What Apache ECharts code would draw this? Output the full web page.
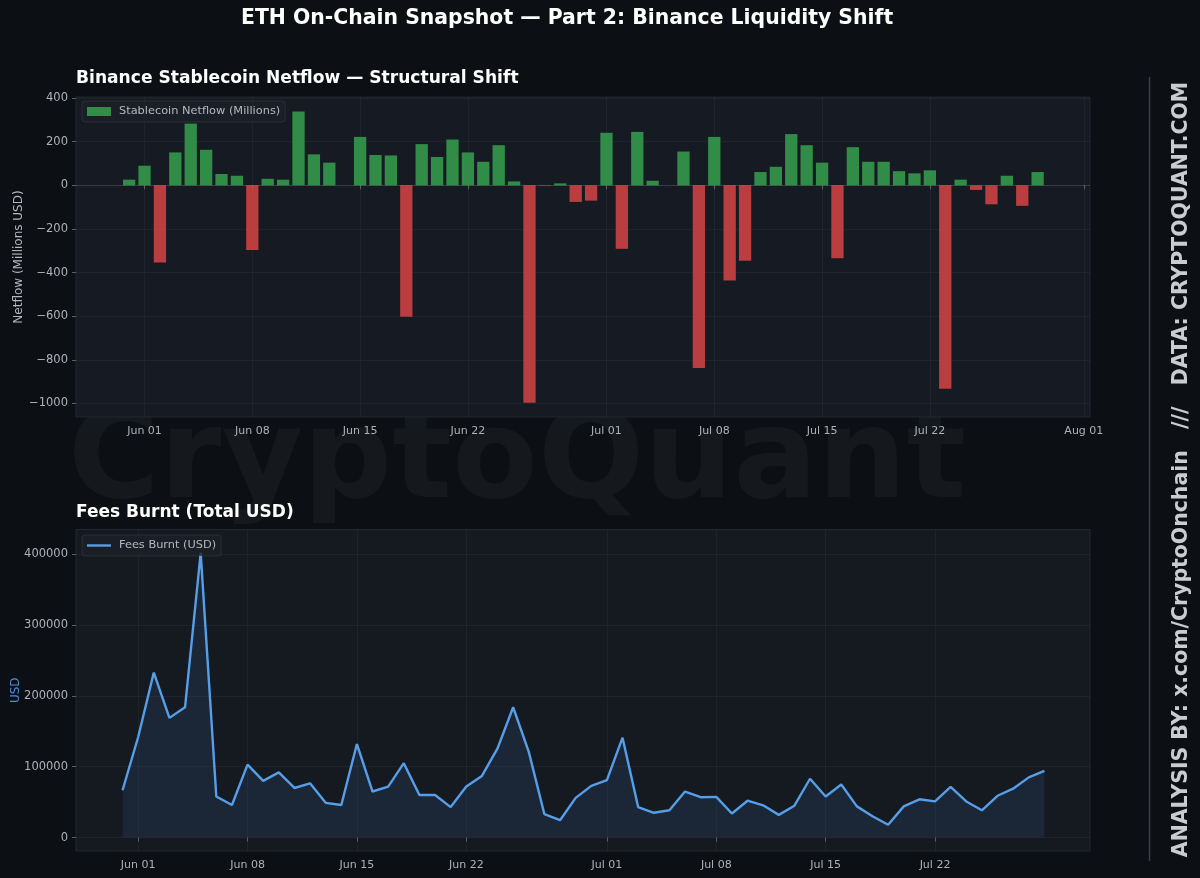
<!DOCTYPE html>
<html><head><meta charset="utf-8">
<style>html,body{margin:0;padding:0;background:#0d1117}#c{width:1200px;height:878px}</style>
<script src="https://cdn.jsdelivr.net/npm/echarts@6/dist/echarts.min.js"></script>
</head><body><div id="c"></div>
<script>
const dates = ['2025-05-31',
'2025-06-01','2025-06-02','2025-06-03','2025-06-04','2025-06-05','2025-06-06','2025-06-07','2025-06-08','2025-06-09','2025-06-10',
'2025-06-11','2025-06-12','2025-06-13','2025-06-14','2025-06-15','2025-06-16','2025-06-17','2025-06-18','2025-06-19','2025-06-20',
'2025-06-21','2025-06-22','2025-06-23','2025-06-24','2025-06-25','2025-06-26','2025-06-27','2025-06-28','2025-06-29','2025-06-30',
'2025-07-01','2025-07-02','2025-07-03','2025-07-04','2025-07-05','2025-07-06','2025-07-07','2025-07-08','2025-07-09','2025-07-10',
'2025-07-11','2025-07-12','2025-07-13','2025-07-14','2025-07-15','2025-07-16','2025-07-17','2025-07-18','2025-07-19','2025-07-20',
'2025-07-21','2025-07-22','2025-07-23','2025-07-24','2025-07-25','2025-07-26','2025-07-27','2025-07-28','2025-07-29'];
const netflow = [26,90,-354,151,283,163,52,44,-296,30,26,338,142,104,0,222,139,137,-602,189,130,210,151,108,184,18,-997,-2,9,-76,-70,
241,-291,245,21,0,155,-837,222,-436,-346,61,85,235,184,104,-334,175,108,108,65,55,69,-933,26,-21,-87,44,-94,61];
const feesBurnt = [66800,142000,233000,169000,184000,402000,58000,46000,103000,80000,92000,70000,76500,49000,46000,132000,65000,72000,105000,60000,60000,43000,72000,87000,126000,184000,121000,33000,24500,56000,73000,
81000,141000,43000,35000,38500,65000,57000,57500,34000,52000,45500,32000,45000,83000,58000,75000,44000,30000,18000,44000,54000,51000,71500,51000,38500,59000,69000,85000,94000];
const topDateTicks = ['2025-06-01','2025-06-08','2025-06-15','2025-06-22','2025-07-01','2025-07-08','2025-07-15','2025-07-22','2025-08-01'];
const bottomDateTicks = ['2025-06-01','2025-06-08','2025-06-15','2025-06-22','2025-07-01','2025-07-08','2025-07-15','2025-07-22'];
const netflowTicks = [-1000,-800,-600,-400,-200,0,200,400];
const feesTicks = [0,100000,200000,300000,400000];

const DAY = 86400000;
const t = s => { const [y,m,d] = s.split('-').map(Number); return new Date(y,m-1,d).getTime(); };
const MONTHS = ['Jan','Feb','Mar','Apr','May','Jun','Jul','Aug'];
const fmtDate = v => { const d = new Date(v); return MONTHS[d.getMonth()]+' '+String(d.getDate()).padStart(2,'0'); };
const FONT = '"DejaVu Sans"';
const GRID = 'rgba(255,255,255,0.04)';
const LABEL = '#aeb2b7';
const xAxis = (gridIndex, ticks, min, max) => {
  const vals = ticks.map(t);
  return {type:'value', gridIndex, min, max, scale:true,
    axisLine:{show:false},
    axisTick:{show:true, length:4, customValues:vals, lineStyle:{color:'#5b6168', width:1}},
    axisLabel:{customValues:vals, formatter:fmtDate, color:LABEL, fontFamily:FONT, fontSize:11, margin:9, hideOverlap:false, showMinLabel:true, showMaxLabel:true},
    splitLine:{show:true, customValues:vals, lineStyle:{color:GRID, width:1}},
    minorTick:{show:false}};
};
const yAxis = (gridIndex, ticks, min, max, name, nameColor, nameGap) => ({type:'value', gridIndex, min, max,
    name, nameLocation:'middle', nameGap, nameMoveOverlap:false, nameTextStyle:{color:nameColor, fontFamily:FONT, fontSize:12},
    axisLine:{show:false},
    axisTick:{show:true, length:4, customValues:ticks, lineStyle:{color:'#5b6168', width:1}},
    axisLabel:{customValues:ticks, color:LABEL, fontFamily:FONT, fontSize:11.5, margin:8,
      formatter:v=>String(v).replace('-','\u2212'), showMinLabel:true, showMaxLabel:true},
    splitLine:{show:true, customValues:ticks, lineStyle:{color:GRID, width:1}}});
const legend = (name, left, top, iconOpt) => Object.assign({data:[name], left, top, orient:'horizontal', icon:'rect',
    backgroundColor:'rgba(28,33,41,0.75)', borderColor:'rgba(255,255,255,0.08)', borderWidth:1, borderRadius:3,
    padding:[5,5,5,5], itemWidth:24, itemHeight:9, itemGap:0,
    textStyle:{color:'#b3b8be', fontFamily:FONT, fontSize:11.35, padding:[0,0,0,3]}}, iconOpt);
const title = (text, left, top, size) => ({text, left, top, textStyle:{color:'#ffffff', fontFamily:FONT, fontWeight:'bold', fontSize:size}, padding:0});

const chart = echarts.init(document.getElementById('c'), null, {renderer:'canvas'});
chart.setOption({
  animation:false,
  backgroundColor:'#0c0f14',
  textStyle:{fontFamily:FONT},
  title:[
    title('ETH On-Chain Snapshot \u2014 Part 2: Binance Liquidity Shift', 241, 9, 20.4),
    title('Binance Stablecoin Netflow \u2014 Structural Shift', 76, 70, 17.1),
    title('Fees Burnt (Total USD)', 76, 504, 17)
  ],
  grid:[
    {left:76, top:97, width:1014, height:320, show:true, outerBoundsMode:'none', backgroundColor:'#161b23', borderColor:'#23282f', borderWidth:1, containLabel:false},
    {left:76, top:529.5, width:1014, height:321.5, show:true, outerBoundsMode:'none', backgroundColor:'#151a21', borderColor:'#23282f', borderWidth:1, containLabel:false}
  ],
  legend:[
    legend('Stablecoin Netflow (Millions)', 82, 101, {itemWidth:24, itemHeight:9}),
    legend('Fees Burnt (USD)', 82, 535, {itemWidth:24, itemHeight:2.4})
  ],
  xAxis:[
    xAxis(0, topDateTicks, t('2025-06-01')-4.45*DAY, t('2025-06-01')+61.4*DAY),
    xAxis(1, bottomDateTicks, t('2025-06-01')-3.98*DAY, t('2025-06-01')+60.92*DAY)
  ],
  yAxis:[
    yAxis(0, netflowTicks, -1062, 405, 'Netflow (Millions USD)', '#b3b8be', 51),
    yAxis(1, feesTicks, -19000, 435000, 'USD', '#4f8fd6', 54)
  ],
  series:[
    {name:'Stablecoin Netflow (Millions)', type:'bar', xAxisIndex:0, yAxisIndex:0, barWidth:12.3,
     itemStyle:{color:'#2f8f47'},
     data:dates.map((d,i)=>({value:[t(d),netflow[i]], itemStyle:{color:netflow[i]>=0?'rgba(54,162,78,0.84)':'rgba(222,70,70,0.82)'}})),
     markLine:{silent:true, symbol:'none', label:{show:false}, lineStyle:{color:'rgba(255,255,255,0.12)', width:1, type:'solid'}, data:[{yAxis:0}]}},
    {name:'Fees Burnt (USD)', type:'line', xAxisIndex:1, yAxisIndex:1, showSymbol:false, symbol:'none', smooth:false,
     lineStyle:{color:'#569fe8', width:2.4}, itemStyle:{color:'#569fe8'},
     areaStyle:{color:'rgba(86,140,232,0.15)'},
     data:dates.map((d,i)=>[t(d),feesBurnt[i]])}
  ],
  graphic:{elements:[
    {type:'text', z:-100, silent:true, left:68, top:402, style:{text:'CryptoQuant', font:'bold 125px "DejaVu Sans"', fill:'rgba(255,255,255,0.04)'}},
    {type:'line', silent:true, shape:{x1:1149.5,y1:77,x2:1149.5,y2:861}, style:{stroke:'#3a3f46', lineWidth:1.5}},
    {type:'text', silent:true, x:1181.5, y:469.5, rotation:Math.PI/2, style:{text:'ANALYSIS BY: x.com/CryptoOnchain   ///   DATA: CRYPTOQUANT.COM', font:'bold 20.45px "DejaVu Sans"', fill:'#c9ccd0', align:'center', verticalAlign:'middle'}}
  ]}
});
</script></body></html>
